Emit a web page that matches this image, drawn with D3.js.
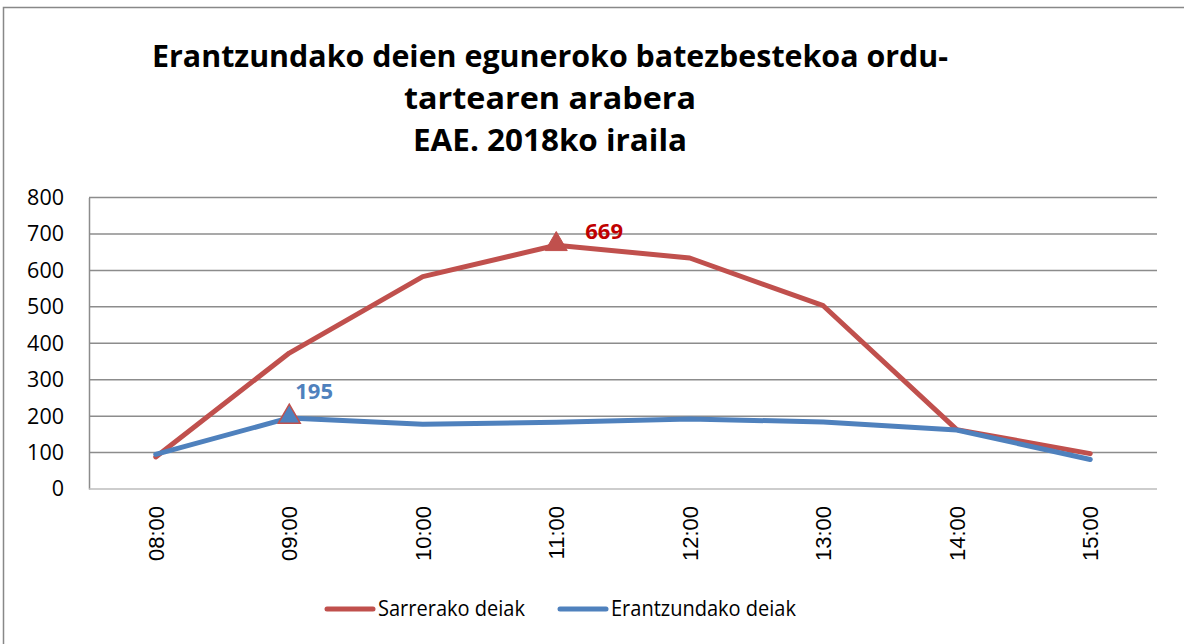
<!DOCTYPE html>
<html lang="en">
<head>
  <meta charset="UTF-8">
  <title>deiak</title>
  <script src="https://cdn.jsdelivr.net/npm/d3@7"></script>
  <style>
    body { margin: 0; background: #fff; overflow: hidden; }
    svg { display: block; }
  </style>
</head>
<body>
<div id="chart"></div>
<script>
    const hours = ["08:00", "09:00", "10:00", "11:00", "12:00", "13:00", "14:00", "15:00"];
    const sarrerako = [88, 373, 583, 669, 634, 503, 163, 97];
    const erantzundako = [95, 195, 178, 183, 192, 184, 162, 81];
    const yTicks = [0, 100, 200, 300, 400, 500, 600, 700, 800];
    const titleLines = ["Erantzundako deien eguneroko batezbestekoa ordu-", "tartearen arabera", "EAE. 2018ko iraila"];
    const seriesNames = ["Sarrerako deiak", "Erantzundako deiak"];

    const width = 1184, height = 644;
    const red = "#C0504D", blue = "#4F81BD";
    const svg = d3.select("#chart").append("svg").attr("width", width).attr("height", height);

    // outer frame (right and bottom sides fall outside the picture)
    svg.append("rect").attr("x", 3.5).attr("y", 7.5).attr("width", 1300).attr("height", 800)
        .attr("fill", "none").attr("stroke", "#888").attr("stroke-width", 1.5);

    // title
    const titleWidths = [796, 292, 274];
    svg.append("g").selectAll("text").data(titleLines).join("text")
        .attr("x", 550).attr("y", (d, i) => 67 + i * 42)
        .attr("text-anchor", "middle")
        .attr("font-family", "Open Sans").attr("font-weight", "bold").attr("font-size", 30)
        .attr("textLength", (d, i) => titleWidths[i]).attr("lengthAdjust", "spacingAndGlyphs")
        .text(d => d);

    const x = d3.scalePoint().domain(hours).range([89, 1157]).padding(0.5);
    const y = d3.scaleLinear().domain([0, 800]).range([489, 197.5]);

    // gridlines
    svg.append("g").selectAll("line").data(yTicks.filter(d => d > 0)).join("line")
        .attr("x1", 89).attr("x2", 1157).attr("y1", d => y(d)).attr("y2", d => y(d))
        .attr("stroke", "#8c8c8c").attr("stroke-width", 1.5);

    // y axis
    const yAxis = svg.append("g").attr("transform", "translate(89,0)")
        .call(d3.axisLeft(y).tickValues(yTicks).tickSize(0).tickPadding(25));
    yAxis.select(".domain").attr("stroke", "#8c8c8c").attr("stroke-width", 1.5);
    yAxis.selectAll("text").attr("font-family", "Open Sans").attr("font-size", 21.5).attr("fill", "#000");

    // x axis
    const xAxis = svg.append("g").attr("transform", "translate(0,489)")
        .call(d3.axisBottom(x).tickSize(0));
    xAxis.select(".domain").attr("stroke", "#bdbdbd").attr("stroke-width", 1.5)
        .attr("d", "M89,0H1157");
    xAxis.selectAll("text")
        .attr("font-family", "Liberation Sans").attr("font-size", 22).attr("fill", "#000")
        .attr("text-anchor", "end").attr("dy", "0.35em")
        .attr("transform", "translate(0,17) rotate(-90)").attr("x", 0).attr("y", 0);

    const line = d3.line().x((d, i) => x(hours[i])).y(d => y(d));
    svg.append("path").datum(sarrerako).attr("d", line).attr("fill", "none")
        .attr("stroke", red).attr("stroke-width", 5).attr("stroke-linejoin", "round").attr("stroke-linecap", "round");
    svg.append("path").datum(erantzundako).attr("d", line).attr("fill", "none")
        .attr("stroke", blue).attr("stroke-width", 5).attr("stroke-linejoin", "round").attr("stroke-linecap", "round");

    // markers + labels
    const tri = d3.symbol().type(d3.symbolTriangle).size(210);
    svg.append("path").attr("d", tri)
        .attr("transform", `translate(${x(hours[1])},${y(erantzundako[1]) - 1})`)
        .attr("fill", blue).attr("stroke", red).attr("stroke-width", 1.5);
    svg.append("path").attr("d", tri)
        .attr("transform", `translate(${x(hours[3])},${y(sarrerako[3]) - 1})`)
        .attr("fill", red).attr("stroke", red).attr("stroke-width", 1);

    svg.append("text").attr("x", x(hours[1]) + 6).attr("y", y(erantzundako[1]) - 19)
        .attr("font-family", "Open Sans").attr("font-weight", "bold").attr("font-size", 22)
        .attr("fill", blue).text(erantzundako[1]);
    svg.append("text").attr("x", x(hours[3]) + 29).attr("y", y(sarrerako[3]) - 6)
        .attr("font-family", "Open Sans").attr("font-weight", "bold").attr("font-size", 22)
        .attr("fill", "#C00000").text(sarrerako[3]);

    // legend
    const legend = svg.append("g").selectAll("g").data(seriesNames).join("g")
        .attr("transform", (d, i) => `translate(${327 + i * 233},609)`);
    legend.append("line").attr("x1", 0).attr("x2", 46).attr("y1", 0).attr("y2", 0)
        .attr("stroke", (d, i) => i ? blue : red).attr("stroke-width", 5).attr("stroke-linecap", "round");
    legend.append("text").attr("x", 51).attr("y", 0).attr("dy", "0.35em")
        .attr("font-family", "Open Sans").attr("font-size", 21).attr("fill", "#000")
        .attr("textLength", (d, i) => i ? 185 : 147).attr("lengthAdjust", "spacingAndGlyphs")
        .text(d => d);
</script>
</body>
</html>
